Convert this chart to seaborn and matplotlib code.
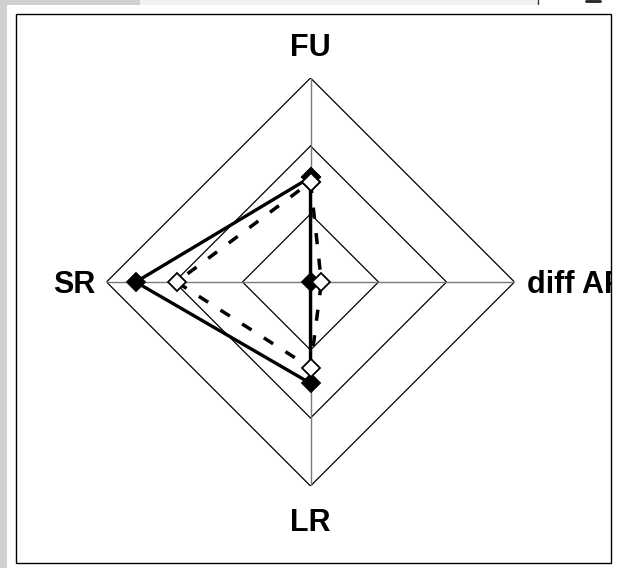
import numpy as np
import pandas as pd
import matplotlib
matplotlib.use("Agg")
import matplotlib.pyplot as plt
from matplotlib.patches import Rectangle
import seaborn as sns

# ---- data ----
categories = ["FU", "diff AF", "LR", "SR"]
series_filled = [1.54, 0.0, 1.49, 2.57]
series_open = [1.47, 0.16, 1.26, 1.97]
grid_levels = [1, 2, 3]

sns.set_theme(style="white")
plt.rcParams["font.family"] = ["Liberation Sans", "DejaVu Sans"]

W, H = 619, 568
fig = plt.figure(figsize=(W / 100, H / 100), dpi=100)
fig.patch.set_facecolor("white")

def fx(px):
    return px / W

def fy(py):
    return 1 - py / H

# window chrome strips
fig.patches.append(Rectangle((0, 0), fx(7), 1, transform=fig.transFigure,
                             facecolor="#d0d0d0", edgecolor="none", zorder=0))
fig.patches.append(Rectangle((0, fy(5)), fx(140), 5 / H, transform=fig.transFigure,
                             facecolor="#d0d0d0", edgecolor="none", zorder=0))
fig.patches.append(Rectangle((fx(140), fy(5)), fx(398), 5 / H, transform=fig.transFigure,
                             facecolor="#f2f2f2", edgecolor="none", zorder=0))
fig.lines.append(plt.Line2D([fx(538), fx(538)], [fy(0), fy(4)], transform=fig.transFigure,
                            color="#333333", lw=1))
fig.lines.append(plt.Line2D([fx(586), fx(600)], [fy(1), fy(1)], transform=fig.transFigure,
                            color="#222222", lw=2))

frame = Rectangle((fx(16), fy(563)), fx(611 - 16), (563 - 14) / H, transform=fig.transFigure,
                  fill=False, edgecolor="black", lw=1.0, zorder=1)
fig.patches.append(frame)

# radar axes
cx, cy, R = 310.5, 282, 204
ax = fig.add_axes([fx(cx - R), 1 - (cy + R) / H, 2 * R / W, 2 * R / H], projection="polar")
ax.set_theta_offset(np.pi / 2)
ax.set_theta_direction(-1)
ax.set_ylim(0, grid_levels[-1])
ax.grid(False)
ax.spines["polar"].set_visible(False)
ax.set_xticks([])
ax.set_yticks([])
ax.patch.set_alpha(0)

angles = np.linspace(0, 2 * np.pi, len(categories), endpoint=False)
closed = np.append(angles, 2 * np.pi)

for lvl in grid_levels:
    ax.plot(closed, [lvl] * len(closed), color="black", lw=0.9, zorder=1)
for a in angles:
    ax.plot([a, a], [0, grid_levels[-1]], color="#7a7a7a", lw=1.0, zorder=1)

df_f = pd.DataFrame({"theta": closed, "r": series_filled + [series_filled[0]]})
df_o = pd.DataFrame({"theta": closed, "r": series_open + [series_open[0]]})

sns.lineplot(data=df_f, x="theta", y="r", sort=False, estimator=None, ax=ax,
             color="black", lw=2.4, marker="D", markersize=9.5,
             markerfacecolor="black", markeredgecolor="black", markeredgewidth=1.3,
             zorder=3)
sns.lineplot(data=df_o, x="theta", y="r", sort=False, estimator=None, ax=ax,
             color="black", lw=2.5, linestyle=(0, (3.2, 4.2)), marker="D", markersize=9.5,
             markerfacecolor="white", markeredgecolor="black", markeredgewidth=1.3,
             zorder=4)
ax.set_xlabel("")
ax.set_ylabel("")
ax.set_ylim(0, grid_levels[-1])

label_pos = {"FU": (3.49, "center"), "diff AF": (3.18, "left"),
             "LR": (3.49, "center"), "SR": (3.17, "right")}
for a, name in zip(angles, categories):
    r, ha = label_pos[name]
    t = ax.text(a, r, name, ha=ha, va="center_baseline", fontsize=22,
                fontweight="bold", color="black", clip_on=True)
    t.set_clip_path(frame)

fig.savefig("out.png", dpi=100)
